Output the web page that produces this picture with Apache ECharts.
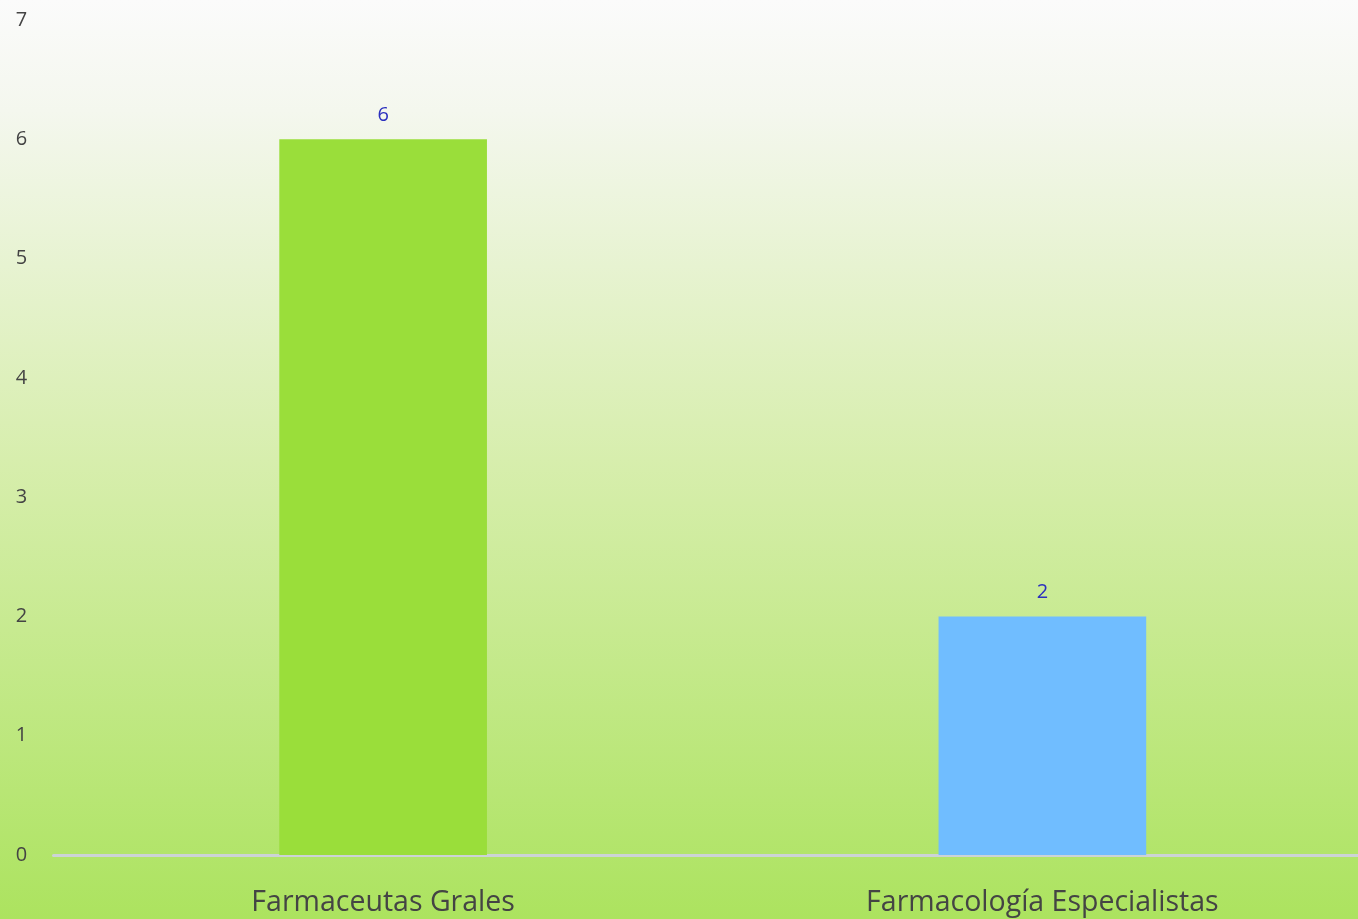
<!DOCTYPE html>
<html><head><meta charset="utf-8">
<script src="https://cdn.jsdelivr.net/npm/echarts@6/dist/echarts.min.js"></script>
<style>html,body{margin:0;padding:0;overflow:hidden;width:1358px;height:919px;}#c{width:1372px;height:919px;}</style>
</head><body><div id="c"></div>
<script>
const categories = ["Farmaceutas Grales", "Farmacología Especialistas"];
const values = [6, 2];
const barColors = ["#9ade3a", "#70bdff"];
const yTicks = [0, 1, 2, 3, 4, 5, 6, 7];

const chart = echarts.init(document.getElementById('c'));
chart.setOption({
  backgroundColor: {
    type: 'linear', x: 0, y: 0, x2: 0, y2: 1,
    colorStops: [
      {offset: 0, color: '#fbfbfb'},
      {offset: 0.12, color: '#f4f7ee'},
      {offset: 0.5, color: '#d7eead'},
      {offset: 1, color: '#ace35f'}
    ]
  },
  animation: false,
  grid: {left: 53.5, right: 0, top: 20, bottom: 64, containLabel: false},
  xAxis: {
    type: 'category', data: categories,
    axisLine: {show: true, lineStyle: {color: '#ccd3d6', width: 3}},
    axisTick: {show: false},
    axisLabel: {color: '#444', fontSize: 28.5, fontFamily: 'Open Sans', margin: 33}
  },
  yAxis: {
    type: 'value', min: 0, max: 7, interval: 1,
    splitLine: {show: false},
    axisLine: {show: false}, axisTick: {show: false},
    axisLabel: {color: '#444', fontSize: 20, fontFamily: 'Open Sans', margin: 32, align: 'center',
      formatter: v => yTicks.includes(v) ? String(v) : ''}
  },
  series: [{
    type: 'bar', barWidth: '31.5%',
    data: values.map((v, i) => ({value: v, itemStyle: {color: barColors[i]}})),
    label: {show: true, position: 'top', distance: 14, color: '#2b2fbe', fontSize: 20, fontFamily: 'Open Sans'}
  }]
});
</script></body></html>
